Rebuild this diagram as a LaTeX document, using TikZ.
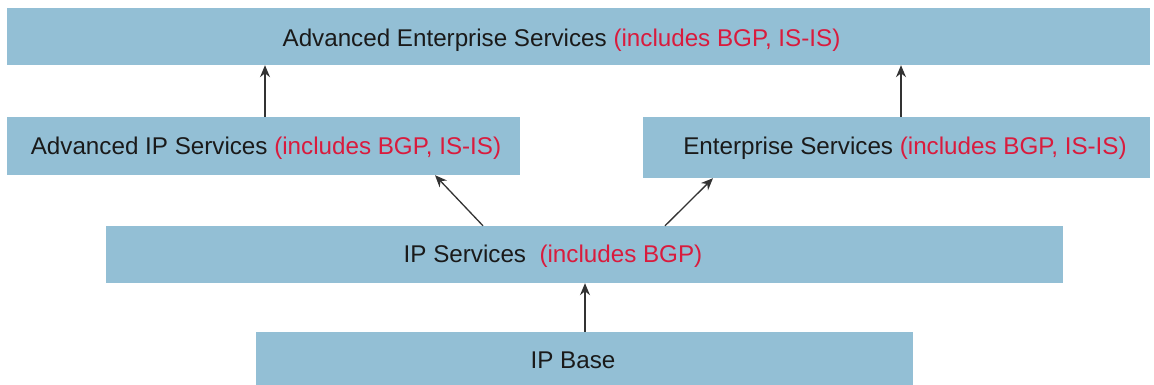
\documentclass[tikz,border=0pt]{standalone}
\usepackage{fontspec}
\setmainfont{Liberation Sans}
\usetikzlibrary{arrows.meta}
\definecolor{boxblue}{HTML}{93BFD5}
\definecolor{incred}{HTML}{D91B3D}
\definecolor{txt}{HTML}{1A1A1A}
\tikzset{
  layer/.style={fill=boxblue, draw=none, inner sep=0pt},
  lbl/.style={text=txt, inner sep=0pt, font=\fontsize{24.2}{28}\selectfont, anchor=base},
  conn/.style={draw=black!80, line width=1.3pt, -{Stealth[length=12pt,width=10pt]}}
}
\newcommand{\inc}[1]{\textcolor{incred}{#1}}
\begin{document}
\begin{tikzpicture}[x=1pt,y=-1pt]
\useasboundingbox (0,0) rectangle (1154,385);
% boxes
\node[layer, minimum width=1143pt, minimum height=57pt] (aes) at (578.5,36.5) {};
\node[layer, minimum width=513pt, minimum height=58pt] (aip) at (263.5,146) {};
\node[layer, minimum width=507pt, minimum height=61pt] (es) at (896.5,147.5) {};
\node[layer, minimum width=957pt, minimum height=57pt] (ips) at (584.5,254.5) {};
\node[layer, minimum width=657pt, minimum height=60pt] (ipb) at (584.5,362) {};
% labels
\node[lbl] (taes) at (561.5,46.5) {Advanced Enterprise Services \inc{(includes BGP, IS-IS)}};
\node[lbl] (taip) at (266,155) {Advanced IP Services \inc{(includes BGP, IS-IS)}};
\node[lbl] (tes) at (905,155) {Enterprise Services \inc{(includes BGP, IS-IS)}};
\node[lbl] (tips) at (553,262.5) {IP Services\ \ \inc{(includes BGP)}};
\node[lbl] (tipb) at (573,368) {IP Base};
% connectors
\draw[conn] (aip.north -| 265,0) -- (aes.south -| 265,0);
\draw[conn] (es.north -| 901,0) -- (aes.south -| 901,0);
\draw[conn] (ips.north -| 483,0) -- (aip.south -| 435,0);
\draw[conn] (ips.north -| 665,0) -- (es.south -| 713,0);
\draw[conn] (ipb.north -| 585,0) -- (ips.south -| 585,0);
\end{tikzpicture}
\end{document}
